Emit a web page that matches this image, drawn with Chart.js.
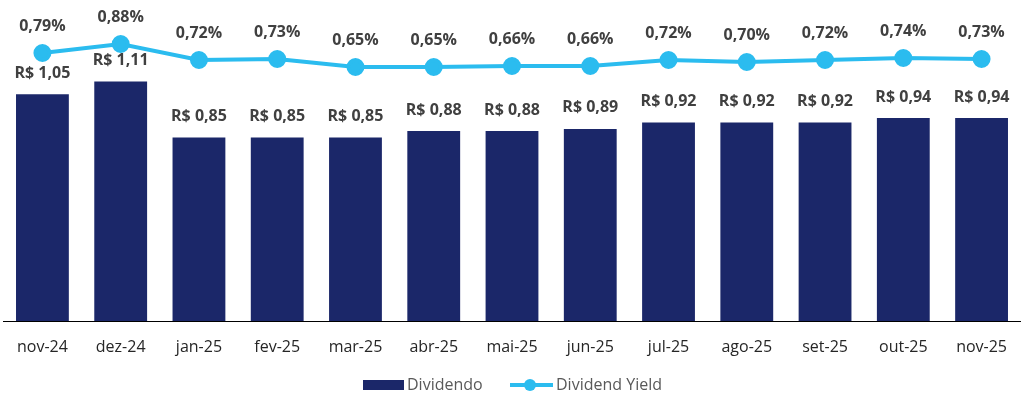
<!DOCTYPE html>
<html lang="pt-BR">
<head>
  <meta charset="UTF-8" />
  <title>Dividendo e Dividend Yield</title>
  <script src="https://cdn.jsdelivr.net/npm/chart.js"></script>
  <style>
    body {
      margin: 0;
      background: #fff;
      font-family: "Open Sans", sans-serif;
    }
    .wrap {
      position: relative;
      width: 1024px;
      height: 398px;
    }
  </style>
</head>
<body>
  <div class="wrap">
    <canvas id="divChart"></canvas>
  </div>

  <script>
    // months shown on the x axis
    const months = ['nov-24', 'dez-24', 'jan-25', 'fev-25', 'mar-25', 'abr-25', 'mai-25',
                    'jun-25', 'jul-25', 'ago-25', 'set-25', 'out-25', 'nov-25'];
    // dividend per share (R$)
    const dividends = [1.05, 1.11, 0.85, 0.85, 0.85, 0.88, 0.88, 0.89, 0.92, 0.92, 0.92, 0.94, 0.94];
    // monthly dividend yield (%)
    const yields = [0.79, 0.88, 0.72, 0.73, 0.65, 0.65, 0.66, 0.66, 0.72, 0.70, 0.72, 0.74, 0.73];

    const NAVY = '#1b2769';
    const SKY = '#2bbcef';
    const LABEL = '#404040';

    const fmt = (v, d) => v.toFixed(d).replace('.', ',');

    // value labels above bars and points
    const valueLabels = {
      id: 'valueLabels',
      afterDatasetsDraw(chart) {
        const ctx = chart.ctx;
        ctx.save();
        ctx.font = 'bold 16px "Open Sans", sans-serif';
        ctx.fillStyle = LABEL;
        ctx.textAlign = 'center';
        ctx.textBaseline = 'middle';
        chart.getDatasetMeta(1).data.forEach((bar, i) => {
          ctx.fillText('R$ ' + fmt(dividends[i], 2), bar.x, bar.y - 21);
        });
        chart.getDatasetMeta(0).data.forEach((pt, i) => {
          ctx.fillText(fmt(yields[i], 2) + '%', pt.x, pt.y - 27);
        });
        ctx.restore();
      }
    };

    // legend at the bottom: box for bars, line with dot for the yield
    const bottomLegend = {
      id: 'bottomLegend',
      afterDraw(chart) {
        const ctx = chart.ctx;
        const y = 385;
        ctx.save();
        ctx.font = '16px "Open Sans", sans-serif';
        ctx.fillStyle = NAVY;
        ctx.fillRect(363, y - 5, 41, 10);
        ctx.fillStyle = '#595959';
        ctx.textBaseline = 'middle';
        ctx.fillText('Dividendo', 407, y);
        ctx.strokeStyle = SKY;
        ctx.lineWidth = 4;
        ctx.beginPath();
        ctx.moveTo(510, y);
        ctx.lineTo(553, y);
        ctx.stroke();
        ctx.fillStyle = SKY;
        ctx.beginPath();
        ctx.arc(530, y, 6, 0, Math.PI * 2);
        ctx.fill();
        ctx.fillStyle = '#595959';
        ctx.fillText('Dividend Yield', 556, y);
        ctx.restore();
      }
    };

    new Chart(document.getElementById('divChart'), {
      data: {
        labels: months,
        datasets: [
          {
            type: 'line',
            label: 'Dividend Yield',
            data: yields,
            yAxisID: 'y2',
            borderColor: SKY,
            backgroundColor: SKY,
            borderWidth: 4,
            pointRadius: 7,
            pointHoverRadius: 7,
            tension: 0,
            order: 0
          },
          {
            type: 'bar',
            label: 'Dividendo',
            data: dividends,
            yAxisID: 'y',
            backgroundColor: NAVY,
            barPercentage: 0.675,
            categoryPercentage: 1,
            order: 1
          }
        ]
      },
      options: {
        responsive: true,
        maintainAspectRatio: false,
        animation: false,
        layout: { autoPadding: false, padding: { top: 8, left: 0, right: 3, bottom: 37 } },
        plugins: {
          legend: { display: false },
          tooltip: { enabled: false }
        },
        scales: {
          x: {
            offset: true,
            grid: { display: false, drawTicks: false },
            border: { display: true, color: '#000', width: 1 },
            ticks: {
              color: '#262626',
              padding: 17,
              font: { family: '"Open Sans", sans-serif', size: 16 }
            },
            afterFit(scale) { scale.height = 40; }
          },
          y: { display: false, min: 0, max: 1.45 },
          y2: { display: false, min: -1.89, max: 1.24 }
        }
      },
      plugins: [valueLabels, bottomLegend]
    });
  </script>
</body>
</html>
